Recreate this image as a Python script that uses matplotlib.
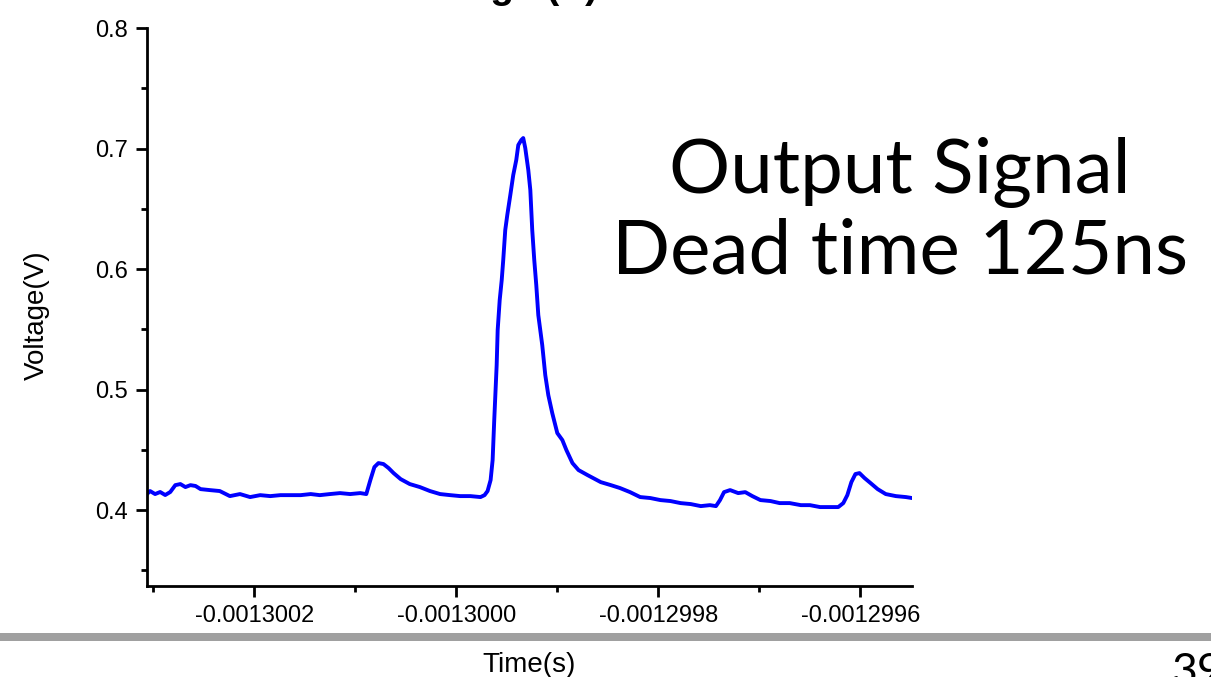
import matplotlib
matplotlib.use("Agg")
import matplotlib.pyplot as plt
from matplotlib.patches import Rectangle
from matplotlib.ticker import MultipleLocator, FuncFormatter

# time offsets from -1.3 ms, in ns, and measured voltage (V)
t_ns = [-306, -303, -298, -293, -288, -283, -278, -273, -268, -263, -258, -253,
        -244, -234, -224, -214, -204, -194, -184, -174, -164, -154, -144, -135,
        -125, -115, -105, -95, -89, -85, -81, -77, -72, -67, -62, -55, -46, -36,
        -26, -16, -6, 4, 14, 24, 28, 31, 34, 36, 37.6, 40, 41, 43, 45, 46.5, 48.5,
        50.5, 53.5, 56.4, 59.4, 61.4, 64.4, 66.3, 68.3, 71.3, 73.3, 75.2, 77.2,
        79.2, 81.2, 85.1, 88.1, 91.1, 95, 100, 105, 109, 115, 121, 130, 143, 153,
        162, 172, 182, 192, 202, 212, 222, 232, 242, 251, 257, 261, 265, 271, 279,
        286, 293, 301, 311, 320, 330, 341, 350, 360, 370, 378, 383, 387, 391, 395,
        399, 404, 410, 417, 425, 435, 445, 451]
volts = [0.4133, 0.4158, 0.4133, 0.415, 0.4125, 0.415, 0.4207, 0.4216, 0.4191,
         0.4207, 0.42, 0.4174, 0.4166, 0.4158, 0.4116, 0.4133, 0.4108, 0.4124,
         0.4116, 0.4124, 0.4124, 0.4124, 0.4133, 0.4124, 0.4133, 0.4141, 0.4133,
         0.4141, 0.4133, 0.4249, 0.4357, 0.439, 0.4382, 0.4349, 0.4307, 0.4257,
         0.4216, 0.4191, 0.4158, 0.4133, 0.4124, 0.4116, 0.4116, 0.4108, 0.4124,
         0.4158, 0.4249, 0.4415, 0.4747, 0.5203, 0.5494, 0.5743, 0.5909, 0.6075,
         0.6324, 0.6448, 0.6614, 0.678, 0.6905, 0.7029, 0.7071, 0.7087, 0.7004,
         0.6822, 0.6656, 0.6324, 0.6075, 0.5867, 0.5618, 0.5369, 0.512, 0.4954,
         0.4805, 0.4639, 0.4581, 0.4498, 0.439, 0.4332, 0.429, 0.4232, 0.4207,
         0.4183, 0.4149, 0.4108, 0.41, 0.4083, 0.4075, 0.4058, 0.405, 0.4033,
         0.4041, 0.4033, 0.4083, 0.4149, 0.4166, 0.4141, 0.4149, 0.4116, 0.4083,
         0.4075, 0.4058, 0.4058, 0.4041, 0.4041, 0.4025, 0.4025, 0.4025, 0.4058,
         0.4124, 0.4232, 0.4299, 0.4307, 0.4266, 0.4224, 0.4174, 0.4133, 0.4116,
         0.4108, 0.41]

t0 = -1.3e-3
times = [t0 + v * 1e-9 for v in t_ns]

plt.rcParams['font.family'] = ['Liberation Sans', 'DejaVu Sans']

fig = plt.figure(figsize=(12.11, 6.77), dpi=100)
ax = fig.add_axes([0.1214, 0.1344, 0.6317, 0.8242])

ax.plot(times, volts, color='#0000ff', linewidth=2.8)

ax.set_xlim(t0 - 306e-9, t0 + 451e-9)
ax.set_ylim(0.337, 0.8)

ax.xaxis.set_major_locator(MultipleLocator(2e-7))
ax.xaxis.set_minor_locator(MultipleLocator(1e-7))
ax.xaxis.set_major_formatter(FuncFormatter(lambda x, p: '{:.7f}'.format(x)))
ax.yaxis.set_major_locator(MultipleLocator(0.1))
ax.yaxis.set_minor_locator(MultipleLocator(0.05))
ax.yaxis.set_major_formatter(FuncFormatter(lambda y, p: '{:.1f}'.format(y)))

for s in ['top', 'right']:
    ax.spines[s].set_visible(False)
for s in ['left', 'bottom']:
    ax.spines[s].set_linewidth(2)

ax.tick_params(which='major', direction='out', length=8, width=2,
               labelsize=17, pad=6)
ax.tick_params(which='minor', direction='out', length=4, width=2)

ax.set_ylabel('Voltage(V)', fontsize=20)
ax.yaxis.set_label_coords(-0.127, 0.486)
ax.set_xlabel('Time(s)', fontsize=20)
ax.xaxis.set_label_coords(0.5, -0.118)

# slide decorations
fig.add_artist(Rectangle((0, 0.0532), 1, 0.0118, transform=fig.transFigure,
                         color='#a0a0a0', linewidth=0))
fig.text(0.4938, 1.003, 'Voltage (V)', ha='right', va='baseline',
         fontsize=28, fontweight='bold')
big = dict(ha='center', va='center', fontsize=55,
           family=['Lato', 'DejaVu Sans'])
fig.text(0.743, 0.745, 'Output Signal', **big)
fig.text(0.743, 0.628, 'Dead time 125ns', **big)
fig.text(0.967, -0.012, '39', ha='left', va='baseline', fontsize=32,
         family=['Lato', 'DejaVu Sans'])

fig.savefig('out.png', dpi=100)
